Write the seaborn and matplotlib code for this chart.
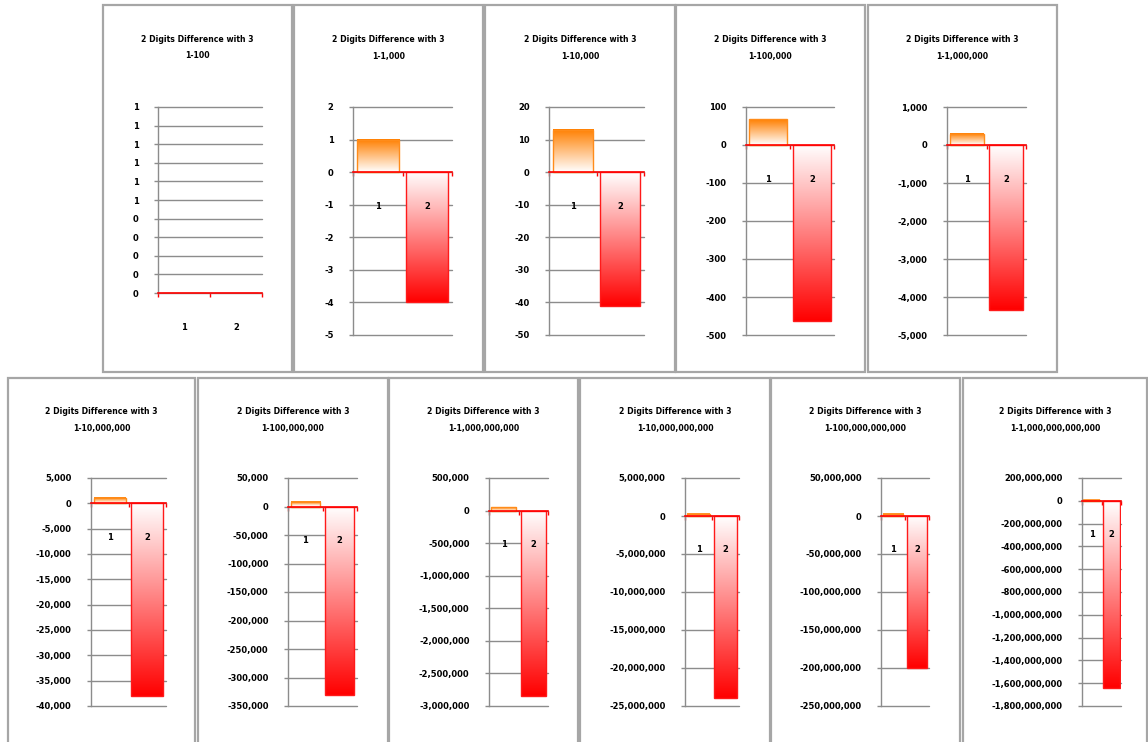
import numpy as np
import pandas as pd
import matplotlib
matplotlib.use("Agg")
import matplotlib.pyplot as plt
from matplotlib.colors import LinearSegmentedColormap
from matplotlib.patches import Rectangle
from matplotlib.ticker import FuncFormatter
import seaborn as sns

# --- data ---
title = "2 Digits Difference with 3"
ranges = ["1-100", "1-1,000", "1-10,000", "1-100,000", "1-1,000,000",
          "1-10,000,000", "1-100,000,000", "1-1,000,000,000",
          "1-10,000,000,000", "1-100,000,000,000", "1-1,000,000,000,000"]
categories = ["1", "2"]
bar1 = [0, 1, 13, 68, 290, 1115, 7600, 61000, 306000, 3000000, 9000000]
bar2 = [0, -4, -41, -464, -4330, -37970, -331200, -2840000,
        -23900000, -200500000, -1638000000]

# axis ranges of each small chart
y_min = [0, -5, -50, -500, -5000, -40000, -350000, -3000000,
         -25000000, -250000000, -1800000000]
y_max = [1, 2, 20, 100, 1000, 5000, 50000, 500000,
         5000000, 50000000, 200000000]
y_step = [0.1, 1, 10, 100, 1000, 5000, 50000, 500000,
          5000000, 50000000, 200000000]

sns.set_style("white")
plt.rcParams["font.family"] = ["DejaVu Sans"]
plt.rcParams["font.weight"] = "bold"
plt.rcParams["text.color"] = "black"
plt.rcParams["ytick.labelcolor"] = "black"

W, H = 1148, 742
fig = plt.figure(figsize=(W / 100, H / 100), dpi=100)

# panel frames (x0, y0, x1, y1) and plot areas (left, right, top, bottom), pixels
frames = [(103, 5, 292, 372), (294, 5, 483, 372), (485, 5, 675, 372),
          (676, 5, 865, 372), (868, 5, 1057, 372),
          (8, 378, 195, 745), (198, 378, 388, 745), (389, 378, 578, 745),
          (580, 378, 770, 745), (771, 378, 960, 745), (963, 378, 1147, 745)]
areas = [(158, 262, 107, 293), (353, 452, 107, 335), (549, 644, 107, 335),
         (746, 834, 107, 335), (947, 1026, 107, 335),
         (91, 166, 478, 706), (288, 357, 478, 706), (489, 548, 478, 706),
         (685, 739, 478, 706), (881, 929, 478, 706), (1082, 1121, 478, 706)]

orange_cmap = LinearSegmentedColormap.from_list("og", ["white", "#ff7f00"])
red_cmap = LinearSegmentedColormap.from_list("rg", ["#ff0000", "white"])
grad = np.linspace(0, 1, 256).reshape(-1, 1)
grid_col = "#8c8c8c"


def fmt(v, pos):
    return f"{int(np.floor(v + 0.5)):,}"


for i in range(len(ranges)):
    x0, y0, x1, y1 = frames[i]
    fig.add_artist(Rectangle((x0 / W, 1 - y1 / H), (x1 - x0) / W, (y1 - y0) / H,
                             transform=fig.transFigure, fill=False,
                             ec="#a6a6a6", lw=1.6))
    cx = (x0 + x1) / 2
    fig.text(cx / W, 1 - (y0 + 34) / H, title, ha="center", va="center", fontsize=5.6)
    fig.text(cx / W, 1 - (y0 + 51) / H, ranges[i], ha="center", va="center", fontsize=5.6)

    l, r, t, b = areas[i]
    ax = fig.add_axes([l / W, 1 - b / H, (r - l) / W, (b - t) / H])
    df = pd.DataFrame({"cat": categories, "val": [bar1[i], bar2[i]]})
    sns.barplot(data=df, x="cat", y="val", hue="cat",
                palette=["#ff7f00", "#ff0000"], legend=False,
                width=0.85, saturation=1, ax=ax)

    # gradient fills inside the bars
    for patch, cmap, ec in zip(ax.patches, [orange_cmap, red_cmap],
                               ["#ff8c1a", "#ff1a1a"]):
        h = patch.get_height()
        px = patch.get_x()
        pw = patch.get_width()
        patch.set_facecolor("none")
        patch.set_edgecolor(ec)
        patch.set_linewidth(1.0)
        patch.set_zorder(2)
        if h != 0:
            ax.imshow(grad, extent=[px, px + pw, min(0, h), max(0, h)],
                      origin="lower", aspect="auto", cmap=cmap, zorder=1.5,
                      interpolation="bilinear")

    ax.set_xlim(-0.5, 1.5)
    ax.set_ylim(y_min[i], y_max[i])
    n = int(round((y_max[i] - y_min[i]) / y_step[i]))
    ax.set_yticks(np.linspace(y_min[i], y_max[i], n + 1))
    ax.yaxis.set_major_formatter(FuncFormatter(fmt))
    ax.set_xticks([-0.5, 0.5, 1.5])
    ax.set_xlabel("")
    ax.set_ylabel("")

    ax.grid(axis="y", color=grid_col, lw=1.0)
    ax.grid(axis="x", visible=False)
    ax.set_axisbelow(True)
    for gl in ax.get_ygridlines():
        gl.set_clip_on(False)
    ax.tick_params(axis="y", left=True, length=3, width=1.0, color=grid_col,
                   pad=11, labelsize=6, direction="out", labelcolor="black")
    ax.tick_params(axis="x", bottom=True, length=3, width=1.0, color="red",
                   labelbottom=False, direction="out")

    for s in ["top", "right"]:
        ax.spines[s].set_visible(False)
    ax.spines["left"].set_color(grid_col)
    ax.spines["left"].set_linewidth(1.0)
    ax.spines["bottom"].set_position(("data", 0))
    ax.spines["bottom"].set_color("red")
    ax.spines["bottom"].set_linewidth(1.2)
    ax.spines["bottom"].set_zorder(3)

    for j, c in enumerate(categories):
        ax.annotate(c, xy=(j, 0), xytext=(0, -34), textcoords="offset pixels",
                    ha="center", va="center", fontsize=6, zorder=5,
                    color="black")

fig.savefig("out.png", dpi=100)
